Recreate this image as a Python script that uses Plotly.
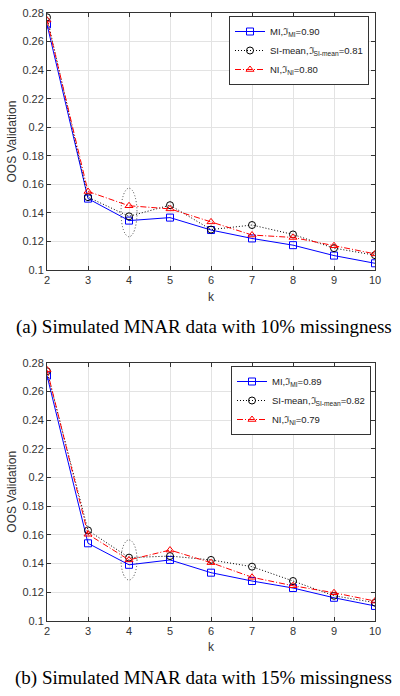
import plotly.graph_objects as go

k = [2, 3, 4, 5, 6, 7, 8, 9, 10]

# (a) 10% missingness
mi_a = [0.272, 0.150, 0.1346, 0.1367, 0.1280, 0.1221, 0.1174, 0.1101, 0.1047]
si_a = [0.277, 0.151, 0.1376, 0.1454, 0.1283, 0.1315, 0.1249, 0.1153, 0.1104]
ni_a = [0.275, 0.155, 0.1450, 0.1428, 0.1337, 0.1245, 0.1228, 0.1170, 0.1113]
names_a = ["MI,ℑ<sub>MI</sub>=0.90", "SI-mean,ℑ<sub>SI-mean</sub>=0.81", "NI,ℑ<sub>NI</sub>=0.80"]

# (b) 15% missingness
mi_b = [0.271, 0.154, 0.1390, 0.1424, 0.1335, 0.1277, 0.1228, 0.1160, 0.1103]
si_b = [0.274, 0.163, 0.1440, 0.1451, 0.1424, 0.1377, 0.1277, 0.1174, 0.1126]
ni_b = [0.275, 0.1603, 0.1424, 0.1493, 0.1405, 0.1303, 0.1244, 0.1195, 0.1137]
names_b = ["MI,ℑ<sub>MI</sub>=0.89", "SI-mean,ℑ<sub>SI-mean</sub>=0.82", "NI,ℑ<sub>NI</sub>=0.79"]

captions = ["(a) Simulated MNAR data with 10% missingness",
            "(b) Simulated MNAR data with 15% missingness"]

ellipse_a = (3.805, 4.195, 0.1233, 0.1573)
ellipse_b = (3.805, 4.195, 0.1284, 0.1563)

yticks = [0.1, 0.12, 0.14, 0.16, 0.18, 0.2, 0.22, 0.24, 0.26, 0.28]
ytext = ["0.1", "0.12", "0.14", "0.16", "0.18", "0.2", "0.22", "0.24", "0.26", "0.28"]

styles = [
    dict(color="#0000ff", dash="solid", symbol="square-open"),
    dict(color="#000000", dash="1px,2px", symbol="circle-open"),
    dict(color="#ff0000", dash="6px,2px,1px,2px", symbol="triangle-up-open"),
]

fig = go.Figure()
panels = [((mi_a, si_a, ni_a), names_a, "x", "y", "legend"),
          ((mi_b, si_b, ni_b), names_b, "x2", "y2", "legend2")]
for series, names, xa, ya, lg in panels:
    for vals, nm, st in zip(series, names, styles):
        fig.add_trace(go.Scatter(
            x=k, y=vals, name=nm, mode="lines+markers",
            line=dict(color=st["color"], width=1, dash=st["dash"]),
            marker=dict(symbol=st["symbol"], size=7, color=st["color"],
                        line=dict(width=1, color=st["color"])),
            xaxis=xa, yaxis=ya, legend=lg))

axcommon = dict(showgrid=True, gridcolor="#e3e3e3", gridwidth=1,
                showline=True, linecolor="#333333", linewidth=1, mirror="allticks",
                ticks="inside", ticklen=4, tickcolor="#333333",
                tickfont=dict(family="Liberation Sans, Arial", size=11, color="#333333"),
                zeroline=False, automargin=False)

xdom = [47 / 400, 375 / 400]
legfont = dict(family="Liberation Sans, Arial", size=9.5, color="#222222")
fig.update_layout(
    width=400, height=696,
    margin=dict(l=0, r=0, t=0, b=0, autoexpand=False),
    paper_bgcolor="white", plot_bgcolor="white",
    showlegend=True,
    xaxis=dict(domain=xdom, anchor="y", range=[2, 10], tickvals=k, **axcommon),
    yaxis=dict(domain=[1 - 270 / 696, 1 - 13 / 696], anchor="x", range=[0.1, 0.28],
               tickvals=yticks, ticktext=ytext, **axcommon),
    xaxis2=dict(domain=xdom, anchor="y2", range=[2, 10], tickvals=k, **axcommon),
    yaxis2=dict(domain=[1 - 620.7 / 696, 1 - 362.7 / 696], anchor="x2", range=[0.1, 0.28],
                tickvals=yticks, ticktext=ytext, **axcommon),
    legend=dict(x=369 / 400, y=1 - 16 / 696, xanchor="right", yanchor="top",
                bgcolor="white", bordercolor="#333333", borderwidth=1,
                font=legfont, tracegroupgap=0, itemwidth=30),
    legend2=dict(x=371 / 400, y=1 - 366 / 696, xanchor="right", yanchor="top",
                 bgcolor="white", bordercolor="#333333", borderwidth=1,
                 font=legfont, tracegroupgap=0, itemwidth=30),
)

for (x0, x1, y0, y1), xr, yr in [(ellipse_a, "x", "y"), (ellipse_b, "x2", "y2")]:
    fig.add_shape(type="circle", xref=xr, yref=yr, x0=x0, x1=x1, y0=y0, y1=y1,
                  line=dict(color="#444444", width=1, dash="1px,2px"))

annfont = dict(family="Liberation Sans, Arial", size=12, color="#333333")
for yc in [(13 + 270) / 2, (362.7 + 620.7) / 2]:
    fig.add_annotation(x=12 / 400, y=1 - yc / 696, xref="paper", yref="paper",
                       text="OOS Validation", showarrow=False, textangle=-90,
                       font=annfont, xanchor="center", yanchor="middle")
for yk in [297, 647]:
    fig.add_annotation(x=(47 + 375) / 2 / 400, y=1 - yk / 696, xref="paper", yref="paper",
                       text="k", showarrow=False, font=annfont,
                       xanchor="center", yanchor="middle")
for cap, yc in zip(captions, [326.7, 678]):
    fig.add_annotation(x=203.5 / 400, y=1 - yc / 696, xref="paper", yref="paper",
                       text=cap, showarrow=False,
                       font=dict(family="Liberation Serif, Times New Roman", size=19, color="black"),
                       xanchor="center", yanchor="middle")

fig.write_html("out.html", config={"displayModeBar": False},
               post_script="document.body.style.margin='0';document.body.style.overflow='hidden';")
